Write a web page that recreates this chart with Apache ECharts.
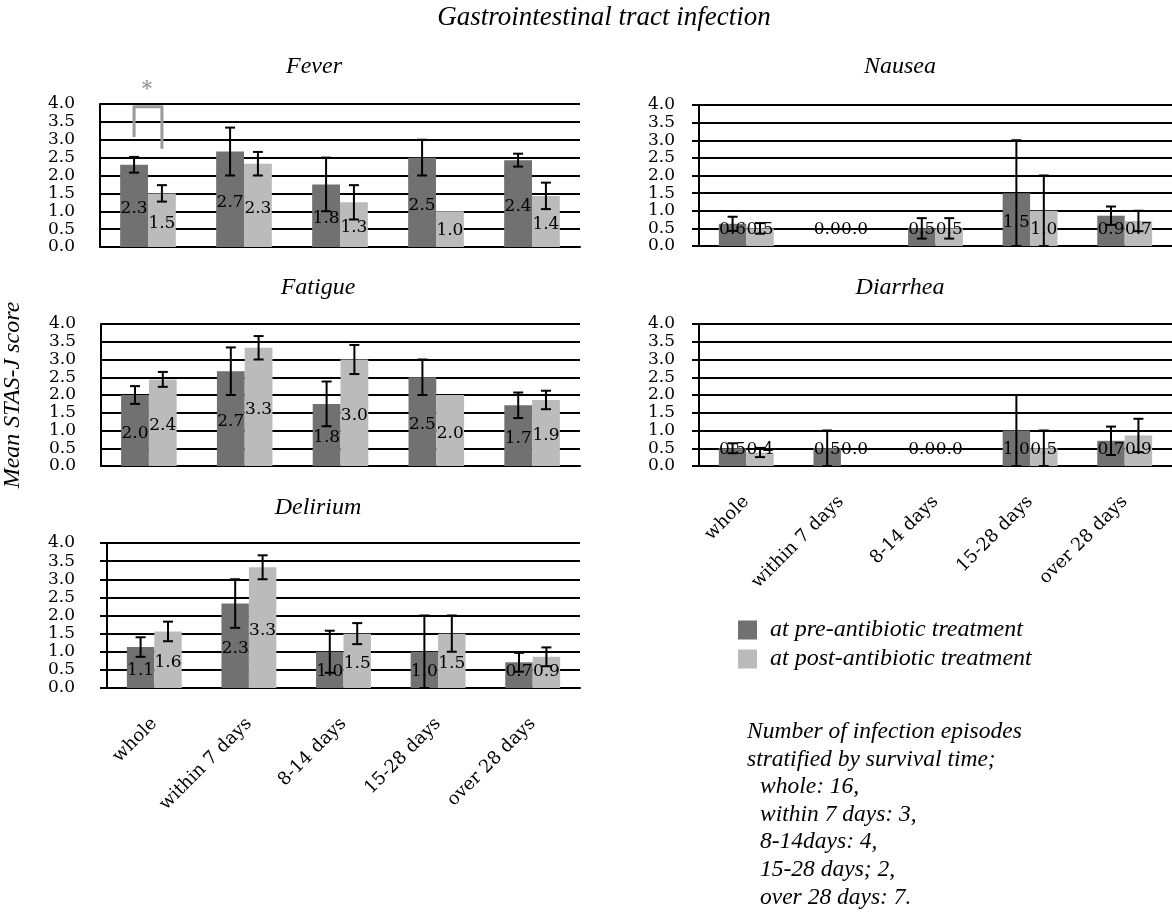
<!DOCTYPE html>
<html>
<head>
<meta charset="utf-8">
<script src="https://cdn.jsdelivr.net/npm/echarts@6/dist/echarts.min.js"></script>
<style>html,body{margin:0;padding:0;background:#fff;}#c{width:1172px;height:917px;}</style>
</head>
<body>
<div id="c"></div>
<script>
const categories = ['whole', 'within 7 days', '8-14 days', '15-28 days', 'over 28 days'];
const seriesNames = ['at pre-antibiotic treatment', 'at post-antibiotic treatment'];

const feverPre = [2.3, 2.67, 1.75, 2.5, 2.43];
const feverPost = [1.5, 2.33, 1.25, 1.0, 1.43];
const feverPreSE = [0.22, 0.67, 0.75, 0.5, 0.18];
const feverPostSE = [0.23, 0.33, 0.48, 0, 0.37];

const nauseaPre = [0.63, 0, 0.5, 1.5, 0.86];
const nauseaPost = [0.5, 0, 0.5, 1.0, 0.71];
const nauseaPreSE = [0.2, 0, 0.29, 1.5, 0.26];
const nauseaPostSE = [0.15, 0, 0.29, 1.0, 0.29];

const fatiguePre = [2.0, 2.67, 1.75, 2.5, 1.71];
const fatiguePost = [2.44, 3.33, 3.0, 2.0, 1.86];
const fatiguePreSE = [0.25, 0.67, 0.63, 0.5, 0.36];
const fatiguePostSE = [0.21, 0.33, 0.41, 0, 0.26];

const diarrheaPre = [0.5, 0.5, 0, 1.0, 0.71];
const diarrheaPost = [0.38, 0, 0, 0.5, 0.86];
const diarrheaPreSE = [0.14, 0.5, 0, 1.0, 0.4];
const diarrheaPostSE = [0.13, 0, 0, 0.5, 0.47];

const deliriumPre = [1.13, 2.33, 1.0, 1.0, 0.71];
const deliriumPost = [1.56, 3.33, 1.5, 1.5, 0.86];
const deliriumPreSE = [0.27, 0.67, 0.58, 1.0, 0.26];
const deliriumPostSE = [0.27, 0.33, 0.29, 0.5, 0.26];

const noteHeader = ['Number of infection episodes', 'stratified by survival time;'];
const episodeNotes = ['whole: 16,', 'within 7 days: 3,', '8-14days: 4,', '15-28 days; 2,', 'over 28 days: 7.'];

const panels = [
  {title: 'Fever', pre: feverPre, post: feverPost, preSE: feverPreSE, postSE: feverPostSE},
  {title: 'Nausea', pre: nauseaPre, post: nauseaPost, preSE: nauseaPreSE, postSE: nauseaPostSE},
  {title: 'Fatigue', pre: fatiguePre, post: fatiguePost, preSE: fatiguePreSE, postSE: fatiguePostSE},
  {title: 'Diarrhea', pre: diarrheaPre, post: diarrheaPost, preSE: diarrheaPreSE, postSE: diarrheaPostSE},
  {title: 'Delirium', pre: deliriumPre, post: deliriumPost, preSE: deliriumPreSE, postSE: deliriumPostSE}
];

// layout (pixels)
const layout = [
  {grid: {left: 100, width: 480, top: 104, height: 143}, tick: false, margin: 25, xLabels: false, tx: 314, ty: 67},
  {grid: {left: 699, width: 473, top: 105, height: 141}, tick: true, margin: 24, xLabels: false, tx: 900, ty: 67},
  {grid: {left: 100, width: 480, top: 324, height: 142}, tick: false, margin: 25, xLabels: false, tx: 318, ty: 288},
  {grid: {left: 699, width: 473, top: 324, height: 142}, tick: true, margin: 24, xLabels: true, tx: 900, ty: 288},
  {grid: {left: 107, width: 473, top: 543, height: 145}, tick: true, margin: 32, xLabels: true, tx: 318, ty: 508}
];

const SERIF = "'DejaVu Serif', serif";
const TIMES = "'Liberation Serif', 'Times New Roman', serif";
const DARK = '#717171';
const LIGHT = '#bbbbbb';

function renderErr(params, api) {
  const i = api.value(0);
  const band = api.size([1, 0])[0];
  const bw = band * 0.29;
  const base = api.coord([i, 0]);
  const children = [];
  const sets = [[api.value(1), api.value(2), -1], [api.value(3), api.value(4), 1]];
  sets.forEach(function (s) {
    const v = s[0], se = s[1], side = s[2];
    const x = base[0] + side * bw / 2;
    if (se > 0) {
      const top = api.coord([i, v + se])[1];
      const bot = api.coord([i, Math.max(0, v - se)])[1];
      const ls = {stroke: '#000', lineWidth: 2};
      children.push({type: 'line', shape: {x1: x, y1: top, x2: x, y2: bot}, style: ls});
      children.push({type: 'line', shape: {x1: x - 5, y1: top, x2: x + 5, y2: top}, style: ls});
      children.push({type: 'line', shape: {x1: x - 5, y1: bot, x2: x + 5, y2: bot}, style: ls});
    }
    const cy = Math.min(api.coord([i, v / 2])[1] + 3, base[1] - 16);
    children.push({type: 'text', x: x, y: cy, style: {text: v.toFixed(1), align: 'center', verticalAlign: 'middle', font: '17px ' + SERIF, fill: '#000'}});
  });
  return {type: 'group', children: children};
}

function renderSig(params, api) {
  const i = api.value(0);
  const band = api.size([1, 0])[0];
  const bw = band * 0.29;
  const c = api.coord([i, 0])[0];
  const xl = c - bw / 2, xr = c + bw / 2;
  const yl = api.coord([i, api.value(1)])[1];
  const yt = api.coord([i, api.value(2)])[1];
  const yr = api.coord([i, api.value(3)])[1];
  return {type: 'group', children: [
    {type: 'polyline', shape: {points: [[xl, yl], [xl, yt], [xr, yt], [xr, yr]]}, style: {stroke: '#9a9a9a', lineWidth: 3, fill: null}},
    {type: 'text', x: c - 1, y: yt - 17, style: {text: '*', align: 'center', verticalAlign: 'middle', font: 'bold 20px ' + SERIF, fill: '#9a9a9a'}}
  ]};
}

const grid = [], xAxis = [], yAxis = [], series = [], graphic = [];
panels.forEach(function (p, k) {
  const L = layout[k];
  grid.push(L.grid);
  xAxis.push({
    gridIndex: k, type: 'category', data: categories,
    axisLine: {show: true, lineStyle: {color: '#000', width: 2}},
    axisTick: {show: false},
    axisLabel: {show: L.xLabels, rotate: 45, interval: 0, margin: 33, fontFamily: SERIF, fontSize: 18, color: '#000'}
  });
  yAxis.push({
    gridIndex: k, type: 'value', min: 0, max: 4, interval: 0.5,
    name: k === 2 ? 'Mean STAS-J score' : '',
    nameLocation: 'middle', nameGap: 76, nameRotate: 90,
    nameTextStyle: {fontFamily: TIMES, fontStyle: 'italic', fontSize: 24, color: '#000'},
    axisLine: {show: true, lineStyle: {color: '#000', width: 2}},
    axisTick: {show: L.tick, length: 7, lineStyle: {color: '#000', width: 2}},
    splitLine: {show: true, lineStyle: {color: '#000', width: 2}},
    axisLabel: {formatter: function (v) { return v.toFixed(1); }, margin: L.margin, fontFamily: SERIF, fontSize: 17, color: '#000'}
  });
  series.push({type: 'bar', name: seriesNames[0], xAxisIndex: k, yAxisIndex: k, data: p.pre, barGap: '0%', barCategoryGap: '42%', itemStyle: {color: DARK}, silent: true});
  series.push({type: 'bar', name: seriesNames[1], xAxisIndex: k, yAxisIndex: k, data: p.post, barGap: '0%', barCategoryGap: '42%', itemStyle: {color: LIGHT}, silent: true});
  series.push({
    type: 'custom', xAxisIndex: k, yAxisIndex: k, z: 10, silent: true,
    data: categories.map(function (c, i) { return [i, p.pre[i], p.preSE[i], p.post[i], p.postSE[i]]; }),
    renderItem: renderErr
  });
  graphic.push({type: 'text', x: L.tx, y: L.ty, style: {text: p.title, textAlign: 'center', textVerticalAlign: 'middle', font: 'italic 24px ' + TIMES, fill: '#000'}});
});

// significance bracket on Fever "whole"
series.push({type: 'custom', xAxisIndex: 0, yAxisIndex: 0, z: 11, silent: true, data: [[0, 3.08, 3.92, 2.75]], renderItem: renderSig});

graphic.push({type: 'text', x: 604, y: 18, style: {text: 'Gastrointestinal tract infection', textAlign: 'center', textVerticalAlign: 'middle', font: 'italic 27px ' + TIMES, fill: '#000'}});
graphic.push({type: 'text', x: 747, y: 718, style: {text: noteHeader.join('\n'), textAlign: 'left', textVerticalAlign: 'top', font: 'italic 23.5px ' + TIMES, lineHeight: 27.7, fill: '#000'}});
graphic.push({type: 'text', x: 760, y: 773, style: {text: episodeNotes.join('\n'), textAlign: 'left', textVerticalAlign: 'top', font: 'italic 23.5px ' + TIMES, lineHeight: 27.7, fill: '#000'}});

const chart = echarts.init(document.getElementById('c'), null, {renderer: 'canvas'});
chart.setOption({
  animation: false,
  backgroundColor: '#fff',
  grid: grid, xAxis: xAxis, yAxis: yAxis, series: series, graphic: graphic,
  legend: {
    data: seriesNames, orient: 'vertical', left: 738, top: 618, padding: 0,
    itemWidth: 19, itemHeight: 19, itemGap: 5, icon: 'rect',
    textStyle: {fontFamily: TIMES, fontStyle: 'italic', fontSize: 24, color: '#000', padding: [0, 0, 0, 8]}
  }
});
</script>
</body>
</html>
